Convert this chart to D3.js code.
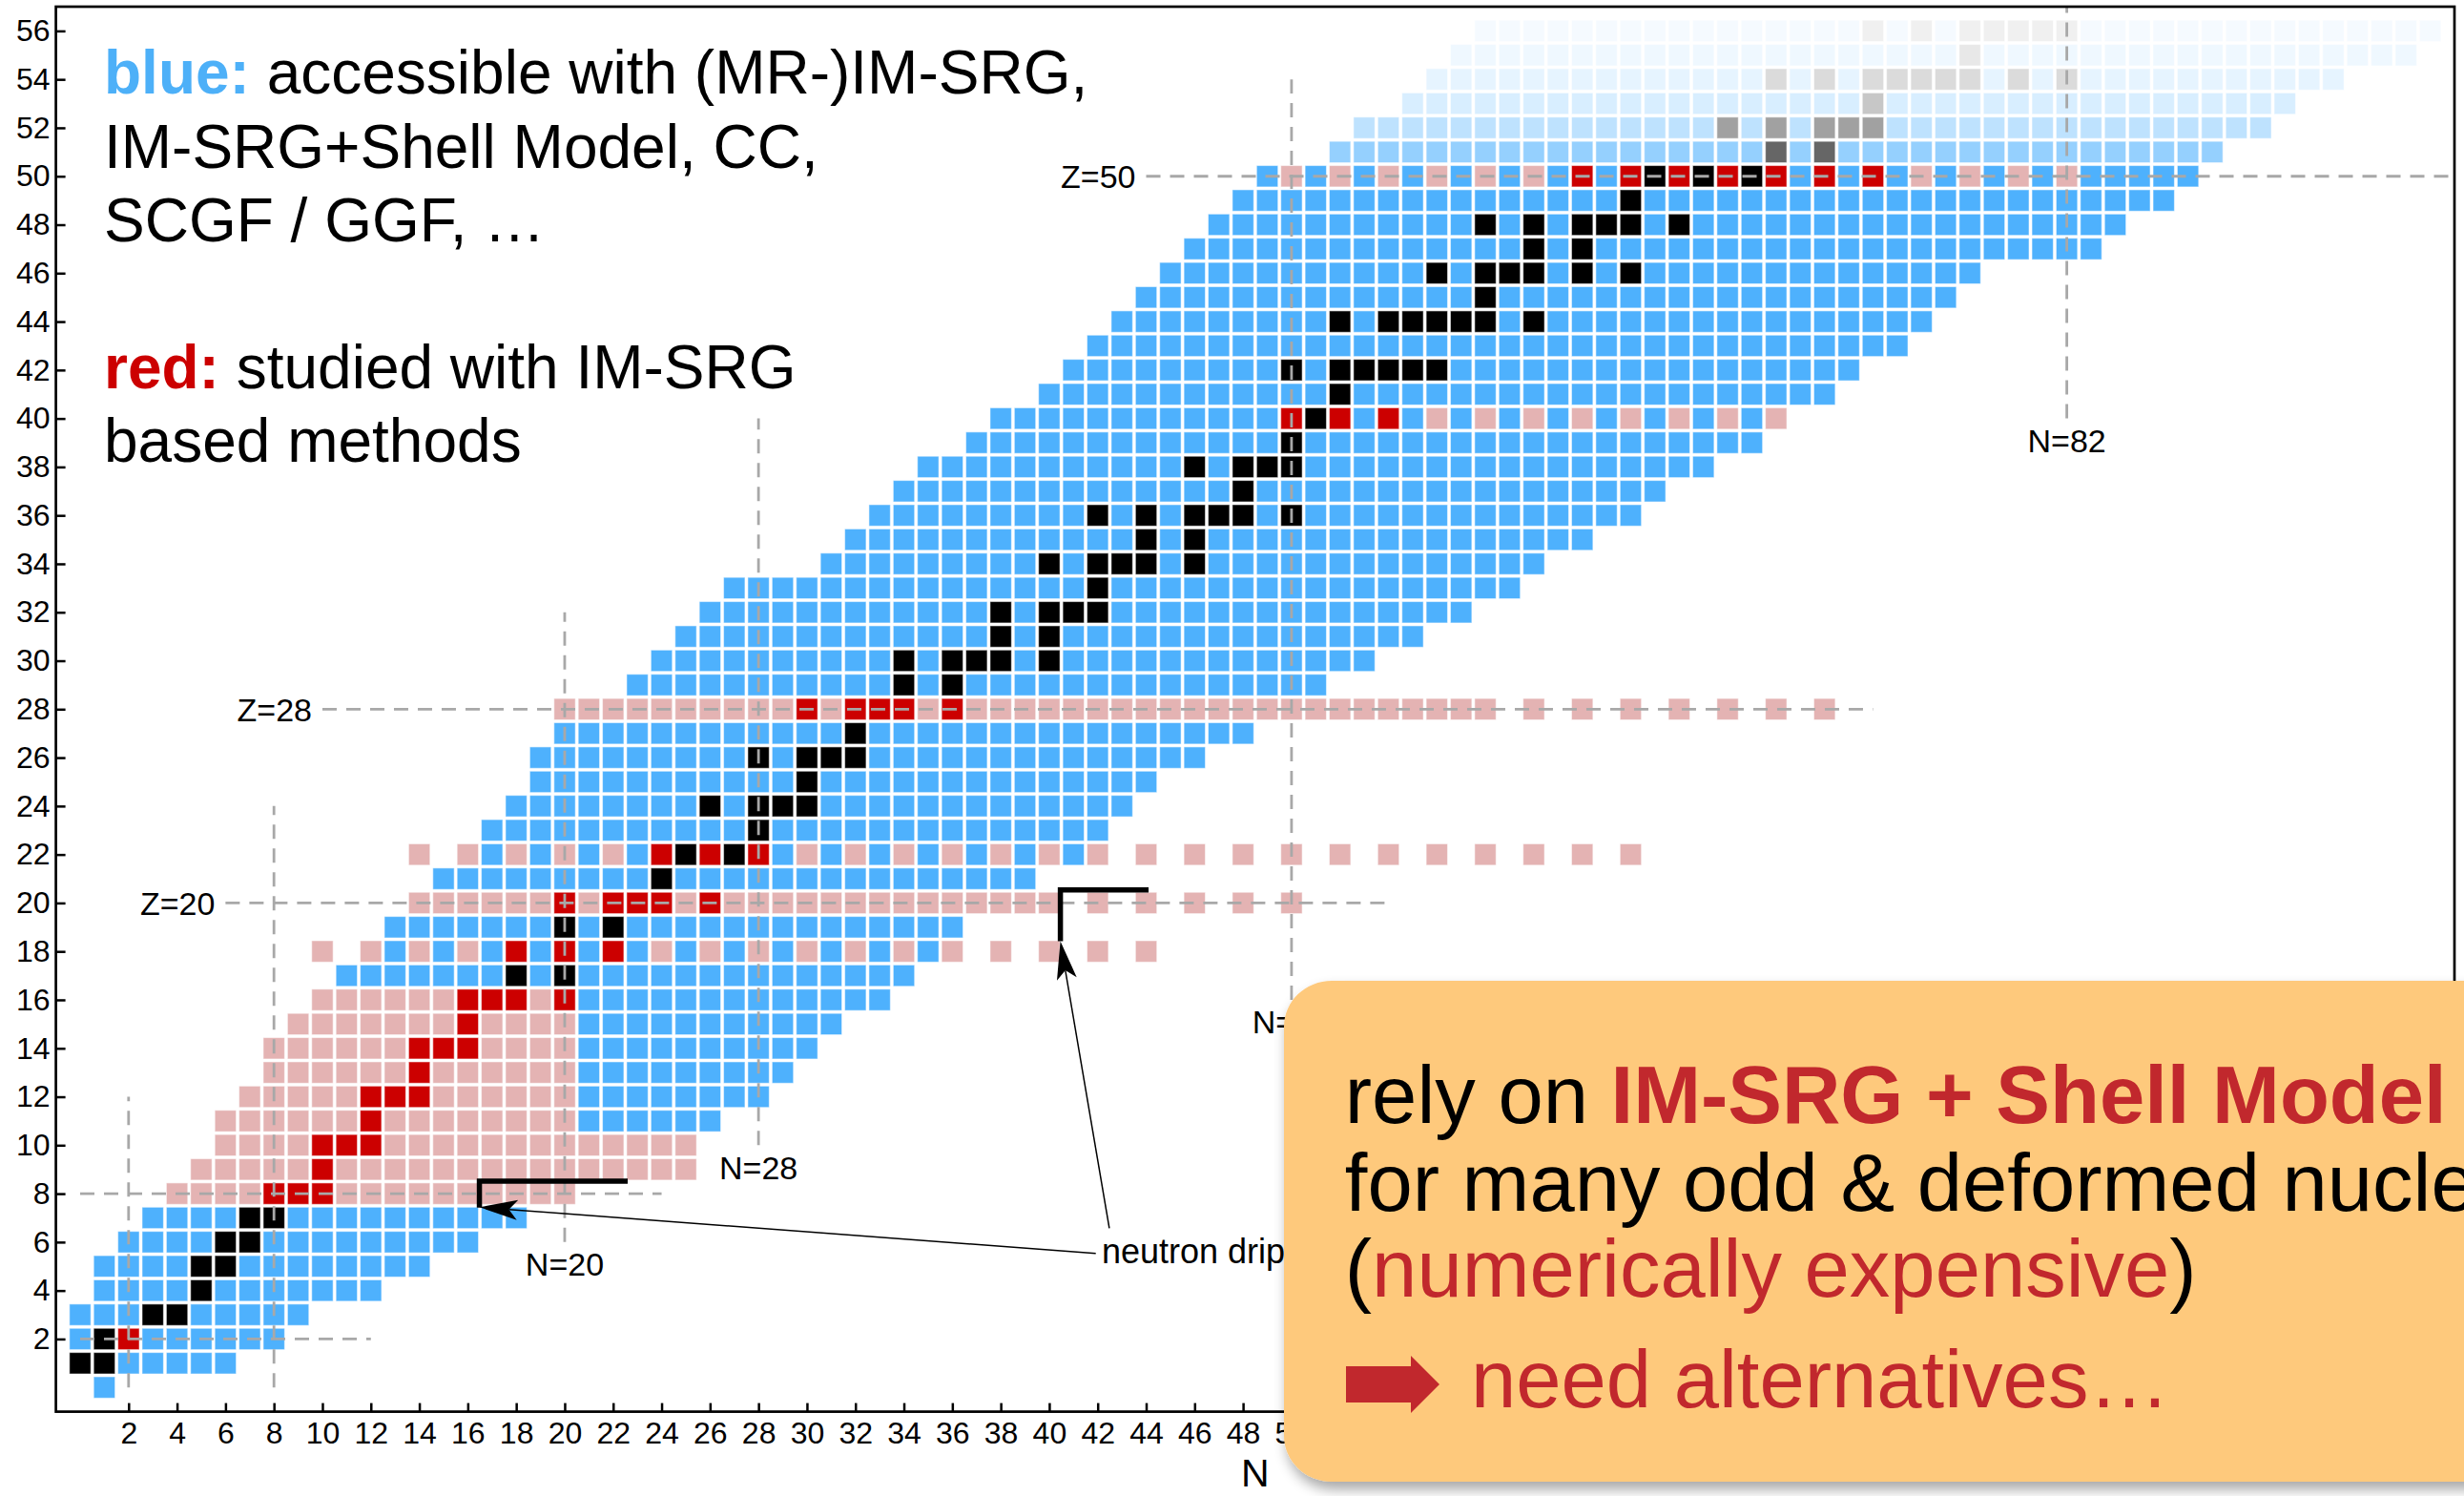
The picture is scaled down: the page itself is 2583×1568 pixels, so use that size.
<!DOCTYPE html>
<html><head><meta charset="utf-8">
<script src="https://cdn.jsdelivr.net/npm/d3@7"></script>
<style>
body{margin:0;background:#fff;}
svg{display:block;}
text{font-family:"Liberation Sans",Arial,Helvetica,sans-serif;}
</style>
</head><body>
<svg id="chart" width="2583" height="1568"></svg>
<script>
// ---------------- DATA ----------------
// [Z, Nmin, Nmax] : blue (accessible) nuclei
const blueRanges = [
 [0,1,1],[1,0,6],[2,0,8],[3,0,9],[4,1,12],[5,1,14],[6,2,16],[7,3,18],
 [11,21,26],[12,21,28],[13,21,29],[14,21,30],[15,21,31],[16,21,33],[17,11,34],[18,13,35],[19,13,36],
 [21,15,39],[22,17,41],[23,17,42],[24,18,43],[25,19,44],[26,19,46],[27,20,48],
 [29,23,51],[30,24,53],[31,25,55],[32,26,57],[33,27,59],[34,31,60],[35,32,62],[36,33,64],
 [37,34,65],[38,35,67],[39,37,69],[40,38,70],[41,40,72],[42,41,73],[43,42,75],[44,43,76],
 [45,44,77],[46,45,78],[47,46,83],[48,47,84],[49,48,86],[50,49,87]
];
// [Z, Nmin, Nmax] : light-red, every nucleus
const pinkRanges = [
 [8,4,20],[9,5,25],[10,6,25],[11,6,20],[12,7,20],[13,8,20],[14,8,20],[15,9,20],[16,10,20],
 [20,14,40],[28,20,58]
];
// [Z, Nmin, Nmax] : light-red, even N only
const pinkEvenRanges = [
 [18,10,44],[20,42,50],[22,14,64],[28,60,72],[40,56,70],[50,50,60],[50,76,82]
];
// [Z, [N...]] : studied with IM-SRG (red)
const redCells = [
 [2,[2]],[8,[8,9,10]],[9,[10]],[10,[10,11,12]],[11,[12]],[12,[12,13,14]],[13,[14]],
 [14,[14,15,16]],[15,[16]],[16,[16,17,18,20]],[18,[18,20,22]],[20,[20,22,23,24,26]],
 [22,[24,26,28]],[28,[30,32,33,34,36]],[40,[50,52,54]],[50,[62,64,66,68,70,72,74]]
];
// [Z, [N...]] : stable (black)
const blackCells = [
 [1,[0,1]],[2,[1]],[3,[3,4]],[4,[5]],[5,[5,6]],[6,[6,7]],[7,[7,8]],
 [17,[18,20]],[19,[20,22]],[21,[24]],[22,[25,27]],[23,[28]],[24,[26,28,29,30]],[25,[30]],
 [26,[28,30,31,32]],[27,[32]],[29,[34,36]],[30,[34,36,37,38,40]],[31,[38,40]],[32,[38,40,41,42]],
 [33,[42]],[34,[40,42,43,44,46]],[35,[44,46]],[36,[42,44,46,47,48,50]],[37,[48]],
 [38,[46,48,49,50]],[39,[50]],[40,[51]],[41,[52]],[42,[50,52,53,54,55,56]],
 [44,[52,54,55,56,57,58,60]],[45,[58]],[46,[56,58,59,60,62,64]],[47,[60,62]],
 [48,[58,60,62,63,64,66]],[49,[64]],[50,[65,67,69]]
];
// faded rows above Z=50
const fadedRanges = [[51,52,88],[52,53,90],[53,55,91],[54,56,93],[55,57,96],[56,58,97]];
const fadedStable = [
 [51,[70,72]],[52,[68,70,72,73,74]],[53,[74]],[54,[70,72,74,75,76,77,78,80,82]],[55,[78]],
 [56,[74,76,78,79,80,81,82]]
];
// magic-number guide lines
const zLines = [[2,0,12],[8,0,24],[20,6,54],[28,10,74],[50,44,98]];   // [Z, Nfrom, Nto]
const nLines = [[2,0,12],[8,0,24],[20,6,32],[28,10,40],[50,16,54],[82,40,57]]; // [N, Zfrom, Zto]
const zLabels = [[20,6],[28,10],[50,44]];
const nLabels = [[20,6],[28,10],[50,16],[82,40]];
// drip-line brackets and arrows (data units N,Z)
const dripBrackets = [
 [[22.6,8.52],[16.48,8.52],[16.48,7.42]],
 [[44.1,20.54],[40.46,20.54],[40.46,18.42]]
];
const dripArrows = [
 {from:[41.92,5.53], to:[16.48,7.44]},
 {from:[42.48,6.57], to:[40.46,18.42]}
];
const dripText = {N:42.05, Z:5.53, label:"neutron drip line"};
const xTicks = [2,4,6,8,10,12,14,16,18,20,22,24,26,28,30,32,34,36,38,40,42,44,46,48,50,52,54,56,58,60,62,64,66,68,70,72,74,76,78,80,82,84,86,88,90,92,94,96];
const xTickLabelMax = 50; // labels further right are covered by the callout box
const yTicks = [2,4,6,8,10,12,14,16,18,20,22,24,26,28,30,32,34,36,38,40,42,44,46,48,50,52,54,56];

const legendLines = [
 [{t:"blue:",c:"#4db0f8",b:true},{t:" accessible with (MR-)IM-SRG,"}],
 [{t:"IM-SRG+Shell Model, CC,"}],
 [{t:"SCGF / GGF, …"}],
 [],
 [{t:"red:",c:"#cc0000",b:true},{t:" studied with IM-SRG"}],
 [{t:"based methods"}]
];
const boxLines = [
 [{t:"rely on "},{t:"IM-SRG + Shell Model",c:"#c1282d",b:true}],
 [{t:"for many odd & deformed nuclei"}],
 [{t:"("},{t:"numerically expensive",c:"#c1282d"},{t:")"}],
 [{t:"need alternatives…",c:"#c1282d"}]
];

// ---------------- DRAWING ----------------
const svg = d3.select("#chart");
const x = d3.scaleLinear().domain([-1,98]).range([58.6,2573]);
const y = d3.scaleLinear().domain([-1,57]).range([1479.6,7]);

const COL = {blue:"#4eb1fd", pink:"#e4b3b3", red:"#cc0000", black:"#000000"};
const fadeOp = {51:0.6,52:0.37,53:0.22,54:0.14,55:0.09,56:0.06};

const cells = new Map();
const put = (z,n,c)=>cells.set(z+","+n,{z,n,c});
blueRanges.forEach(([z,a,b])=>d3.range(a,b+1).forEach(n=>put(z,n,"blue")));
fadedRanges.forEach(([z,a,b])=>d3.range(a,b+1).forEach(n=>put(z,n,"faded")));
fadedStable.forEach(([z,ns])=>ns.forEach(n=>put(z,n,"fadedStable")));
pinkRanges.forEach(([z,a,b])=>d3.range(a,b+1).forEach(n=>put(z,n,"pink")));
pinkEvenRanges.forEach(([z,a,b])=>d3.range(a,b+1,2).forEach(n=>put(z,n,"pink")));
blackCells.forEach(([z,ns])=>ns.forEach(n=>put(z,n,"black")));
redCells.forEach(([z,ns])=>ns.forEach(n=>put(z,n,"red")));

const cs = 22.4;
svg.append("g").selectAll("rect").data([...cells.values()]).join("rect")
  .attr("x",d=>x(d.n)-cs/2).attr("y",d=>y(d.z)-cs/2)
  .attr("width",cs).attr("height",cs)
  .attr("fill",d=> d.c==="faded"?COL.blue : d.c==="fadedStable"?"#000":COL[d.c])
  .attr("fill-opacity",d=> (d.c==="faded"||d.c==="fadedStable")?fadeOp[d.z]:1)
  .attr("stroke","#ffffff").attr("stroke-opacity",0.5).attr("stroke-width",1.1);

// dashed guide lines
const gl = svg.append("g").attr("stroke","#a8a8a8").attr("stroke-width",2.8)
  .attr("stroke-dasharray","15,10").attr("fill","none");
gl.selectAll("line.z").data(zLines).join("line").attr("class","z")
  .attr("x1",d=>x(d[1])).attr("x2",d=>x(d[2])).attr("y1",d=>y(d[0])).attr("y2",d=>y(d[0]));
gl.selectAll("line.n").data(nLines).join("line").attr("class","n")
  .attr("x1",d=>x(d[0])).attr("x2",d=>x(d[0])).attr("y1",d=>y(d[1])).attr("y2",d=>y(d[2]));

svg.append("g").selectAll("text").data(zLabels).join("text")
  .attr("x",d=>x(d[1])-11).attr("y",d=>y(d[0])).attr("dy","0.36em")
  .attr("text-anchor","end").attr("font-size",34).text(d=>"Z="+d[0]);
svg.append("g").selectAll("text").data(nLabels).join("text")
  .attr("x",d=>x(d[0])).attr("y",d=>y(d[1])+11).attr("dy","0.72em")
  .attr("text-anchor","middle").attr("font-size",34).text(d=>"N="+d[0]);

// frame and axes
const xAxis = d3.axisBottom(x).tickValues(xTicks).tickSize(-9).tickPadding(11);
const yAxis = d3.axisLeft(y).tickValues(yTicks).tickSize(-10).tickPadding(6);
const gx = svg.append("g").attr("transform",`translate(0,${y(-1)})`).call(xAxis);
const gy = svg.append("g").attr("transform",`translate(${x(-1)},0)`).call(yAxis);
[gx,gy].forEach(g=>{
  g.select(".domain").remove();
  g.selectAll(".tick line").attr("stroke","#000").attr("stroke-width",2.5);
  g.selectAll(".tick text").attr("font-size",32).attr("fill","#000")
   .attr("font-family",'"Liberation Sans",Arial,sans-serif');
});
gx.selectAll(".tick").filter(d=>d>xTickLabelMax).select("text").remove();
svg.append("rect").attr("x",x(-1)).attr("y",y(57)).attr("width",x(98)-x(-1)).attr("height",y(-1)-y(57))
  .attr("fill","none").attr("stroke","#000").attr("stroke-width",2.7);
svg.append("text").attr("x",(x(-1)+x(98))/2).attr("y",1558).attr("text-anchor","middle")
  .attr("font-size",41).text("N");

// drip-line brackets
svg.append("g").selectAll("path").data(dripBrackets).join("path")
  .attr("d",d=>d3.line().x(p=>x(p[0])).y(p=>y(p[1]))(d))
  .attr("fill","none").attr("stroke","#000").attr("stroke-width",5.5).attr("stroke-linejoin","miter");

// arrows
const ag = svg.append("g");
dripArrows.forEach(a=>{
  const x0=x(a.from[0]), y0=y(a.from[1]), x1=x(a.to[0]), y1=y(a.to[1]);
  const L=Math.hypot(x1-x0,y1-y0), ux=(x1-x0)/L, uy=(y1-y0)/L, px=-uy, py=ux;
  const hl=40, hw=10.5, notch=9;
  ag.append("line").attr("x1",x0).attr("y1",y0).attr("x2",x1-ux*(hl-notch)).attr("y2",y1-uy*(hl-notch))
    .attr("stroke","#000").attr("stroke-width",1.5);
  const pts=[[x1,y1],[x1-ux*hl+px*hw,y1-uy*hl+py*hw],[x1-ux*(hl-notch),y1-uy*(hl-notch)],[x1-ux*hl-px*hw,y1-uy*hl-py*hw]];
  ag.append("path").attr("d","M"+pts.map(p=>p.join(",")).join("L")+"Z").attr("fill","#000");
});
svg.append("text").attr("x",x(dripText.N)+3).attr("y",y(dripText.Z)+10)
  .attr("font-size",36).text(dripText.label);

// legend text top-left
const lt = svg.append("g");
legendLines.forEach((line,i)=>{
  if(!line.length) return;
  const t = lt.append("text").attr("x",109).attr("y",98.3+77.2*i).attr("font-size",64);
  line.forEach(s=>t.append("tspan").attr("fill",s.c||"#000").attr("font-weight",s.b?"bold":"normal").text(s.t));
});

// orange box
const defs = svg.append("defs");
const f = defs.append("filter").attr("id","sh").attr("x","-10%").attr("y","-10%").attr("width","130%").attr("height","130%");
f.append("feGaussianBlur").attr("in","SourceAlpha").attr("stdDeviation",7);
f.append("feOffset").attr("dx",3).attr("dy",8).attr("result","ob");
f.append("feComponentTransfer").append("feFuncA").attr("type","linear").attr("slope",0.35);
const fm = f.append("feMerge"); fm.append("feMergeNode"); fm.append("feMergeNode").attr("in","SourceGraphic");
svg.append("rect").attr("x",1346).attr("y",1028).attr("width",1320).attr("height",525)
  .attr("rx",50).attr("ry",48).attr("fill","#fec97c").attr("filter","url(#sh)");

const boxY=[1177.3,1268.9,1359,1475.4];
boxLines.forEach((line,i)=>{
  const t = svg.append("text").attr("x", i===3?1542:1409.8).attr("y",boxY[i]).attr("font-size",85);
  line.forEach(s=>t.append("tspan").attr("fill",s.c||"#000").attr("font-weight",s.b?"bold":"normal").text(s.t));
});
// red block arrow symbol before "need alternatives…"
svg.append("path").attr("fill","#c1282d")
  .attr("d","M1411,1432 L1479,1432 L1479,1421 L1509,1451 L1479,1481 L1479,1470 L1411,1470 Z");
</script>
</body></html>
